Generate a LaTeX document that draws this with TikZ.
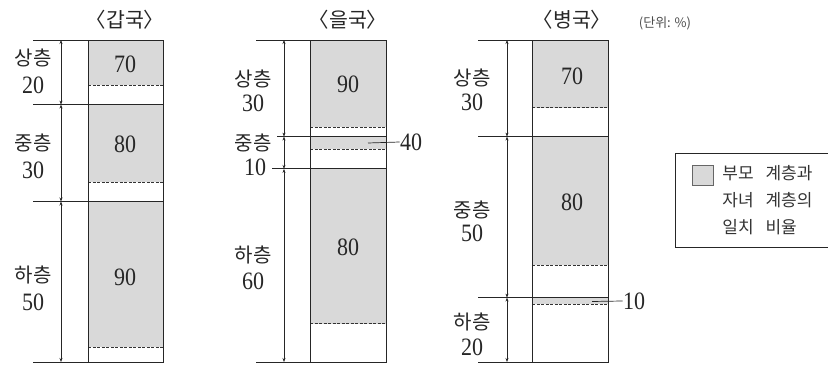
\documentclass[tikz,border=0pt]{standalone}
\usepackage{fontspec}
\setmainfont{Liberation Serif}
\newfontfamily\numf[FakeStretch=0.88]{Liberation Serif}
\newfontfamily\kr{Noto Sans CJK KR}
\usetikzlibrary{arrows.meta}
\begin{document}
\begin{tikzpicture}[x=1pt,y=-1pt, line width=0.8pt,
  frame/.style={draw=black!85},
  band/.style={fill=gray!30, draw=none},
  dline/.style={draw=black!80, dash pattern=on 3pt off 1.5pt, line width=0.7pt},
  dim/.style={{Stealth[length=4pt,width=3pt]}-{Stealth[length=4pt,width=3pt]}, line width=0.6pt, draw=black!85},
  lab/.style={font=\kr\fontsize{20}{20}\selectfont, inner sep=0, text=black!85},
  num/.style={font=\numf\fontsize{25}{25}\selectfont, inner sep=0, text=black!85},
  ttl/.style={font=\kr\fontsize{20.5}{20.5}\selectfont, inner sep=0, text=black!85},
  leg/.style={font=\kr\fontsize{17}{17}\selectfont, inner sep=0, anchor=west, text=black!80},
]
\useasboundingbox (0,0) rectangle (828,366);

% ---------- Gap-guk ----------
\fill[band] (88,40) rectangle (163,85.2);
\fill[band] (88,104.6) rectangle (163,182);
\fill[band] (88,201.5) rectangle (163,346.9);
\draw[dline] (88,85.2) -- (163,85.2);
\draw[dline] (88,182) -- (163,182);
\draw[dline] (88,346.9) -- (163,346.9);
\draw[frame] (88,40) rectangle (163,362);
\draw[frame] (33,40) -- (163,40);
\draw[frame] (33,104.6) -- (163,104.6);
\draw[frame] (33,201.5) -- (163,201.5);
\draw[frame] (33,362) -- (163,362);
\draw[dim] (61,40) -- (61,104.6);
\draw[dim] (61,104.6) -- (61,201.5);
\draw[dim] (61,201.5) -- (61,362);
\node[ttl] (t1) at (125,20) {〈갑국〉};
\node[lab] (a1) at (33,58) {상층};
\node[num] (a1n) at (33,85) {20};
\node[lab] (a2) at (33,143) {중층};
\node[num] (a2n) at (33,170) {30};
\node[lab] (a3) at (33,275) {하층};
\node[num] (a3n) at (33,302) {50};
\node[num] (v1) at (125,64) {70};
\node[num] (v2) at (125,144) {80};
\node[num] (v3) at (125,277) {90};

% ---------- Eul-guk ----------
\fill[band] (310,40) rectangle (386,127);
\fill[band] (310,136.6) rectangle (386,149.5);
\fill[band] (310,168.9) rectangle (386,323.6);
\draw[dline] (310,127) -- (386,127);
\draw[dline] (310,149.5) -- (386,149.5);
\draw[dline] (310,323.6) -- (386,323.6);
\draw[frame] (310,40) rectangle (386,362);
\draw[frame] (256,40) -- (386,40);
\draw[frame] (277,136.6) -- (386,136.6);
\draw[frame] (272,168.9) -- (386,168.9);
\draw[frame] (256,362) -- (386,362);
\draw[dim] (284,40) -- (284,136.6);
\draw[dim] (284,136.6) -- (284,168.9);
\draw[dim] (284,168.9) -- (284,362);
\node[ttl] (t2) at (348,20) {〈을국〉};
\node[lab] (b1) at (253,79) {상층};
\node[num] (b1n) at (253,103) {30};
\node[lab] (b2) at (253,143) {중층};
\node[num] (b2n) at (255,167) {10};
\node[lab] (b3) at (253,255) {하층};
\node[num] (b3n) at (253,281) {60};
\node[num] (w1) at (348,84) {90};
\node[num] (w3) at (348,247) {80};
\node[num] (w2) at (411,142) {40};
\coordinate (c40) at (368,143);
\draw[frame, line width=0.7pt] (c40) -- (w2.west);

% ---------- Byeong-guk ----------
\fill[band] (532,40) rectangle (608,107.6);
\fill[band] (532,136.6) rectangle (608,265.4);
\fill[band] (532,297.6) rectangle (608,304);
\draw[dline] (532,107.6) -- (608,107.6);
\draw[dline] (532,265.4) -- (608,265.4);
\draw[dline] (532,304) -- (608,304);
\draw[frame] (532,40) rectangle (608,362);
\draw[frame] (478,40) -- (608,40);
\draw[frame] (478,136.6) -- (608,136.6);
\draw[frame] (478,297.6) -- (608,297.6);
\draw[frame] (478,362) -- (608,362);
\draw[dim] (507,40) -- (507,136.6);
\draw[dim] (507,136.6) -- (507,297.6);
\draw[dim] (507,297.6) -- (507,362);
\node[ttl] (t3) at (572,20) {〈병국〉};
\node[lab] (c1) at (472,78) {상층};
\node[num] (c1n) at (472,102) {30};
\node[lab] (c2) at (472,210) {중층};
\node[num] (c2n) at (472,233) {50};
\node[lab] (c3) at (472,322) {하층};
\node[num] (c3n) at (472,347) {20};
\node[num] (x1) at (572,76) {70};
\node[num] (x2) at (572,202) {80};
\node[num] (x3) at (634,301) {10};
\coordinate (c10) at (592,301.5);
\draw[frame, line width=0.7pt] (c10) -- (x3.west);

\node[font=\kr\fontsize{13}{13}\selectfont, inner sep=0, text=black!70] (unit) at (665,23) {(단위:\hspace{0.3em}\%)};

% ---------- Legend ----------
\draw[frame, line width=0.7pt] (840,153) -- (675,153) -- (675,247) -- (840,247);
\draw[fill=gray!30, draw=black!60, line width=0.6pt] (692,165) rectangle (713,185);
\node[leg] (l1) at (722,173) {부모\hspace{0.7em}계층과};
\node[leg] (l2) at (722,200) {자녀\hspace{0.7em}계층의};
\node[leg] (l3) at (722,227) {일치\hspace{0.7em}비율};
\end{tikzpicture}
\end{document}
